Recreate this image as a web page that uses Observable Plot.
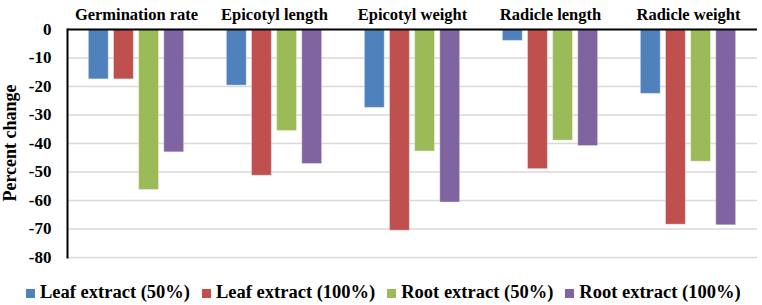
<!DOCTYPE html>
<html>
<head>
<meta charset="utf-8">
<script src="https://cdn.jsdelivr.net/npm/d3@7"></script>
<script src="https://cdn.jsdelivr.net/npm/@observablehq/plot@0.6"></script>
<style>
  html, body { margin: 0; padding: 0; background: #fff; }
  #wrap { position: relative; width: 762px; height: 305px;
          font-family: "Liberation Serif", Tinos, "Times New Roman", "Liberation Sans", sans-serif; }
  #ylabel { position: absolute; left: 10px; top: 143px; transform: translate(-50%, -50%) rotate(-90deg);
            font-weight: bold; font-size: 18px; white-space: nowrap; }
  #legend { position: absolute; left: 26px; top: 280px; height: 24px; display: flex; align-items: center;
            font-weight: bold; font-size: 18.5px; line-height: 24px; white-space: nowrap; }
  #legend .item { display: flex; align-items: center; margin-right: 12px; }
  #legend .sw { width: 9px; height: 9px; margin-right: 5px; margin-top: 2px; }
  #chart svg text { font-family: "Liberation Serif", Tinos, "Times New Roman", "Liberation Sans", sans-serif; }
</style>
</head>
<body>
<div id="wrap">
  <div id="chart"></div>
  <div id="ylabel">Percent change</div>
  <div id="legend"></div>
</div>
<script>
// Measured traits (facets along the top)
const categories = ["Germination rate", "Epicotyl length", "Epicotyl weight", "Radicle length", "Radicle weight"];
// Treatments
const series = ["Leaf extract (50%)", "Leaf extract (100%)", "Root extract (50%)", "Root extract (100%)"];
// Percent change relative to control, one array per treatment (same order as categories)
const leaf50  = [-17.5, -19.7, -27.5,  -4.0, -22.6];
const leaf100 = [-17.5, -51.3, -70.6, -49.0, -68.5];
const root50  = [-56.3, -35.6, -42.8, -39.0, -46.4];
const root100 = [-43.1, -47.2, -60.7, -40.9, -68.7];
// Y axis ticks
const yTicks = [0, -10, -20, -30, -40, -50, -60, -70, -80];

const colors = ["#4F81BD", "#C0504D", "#9BBB59", "#8064A2"];

const valuesBySeries = [leaf50, leaf100, root50, root100];
const data = [];
categories.forEach((c, i) => {
  series.forEach((s, j) => data.push({category: c, series: s, value: valuesBySeries[j][i]}));
});

const chart = Plot.plot({
  width: 762,
  height: 268,
  marginLeft: 65,
  marginRight: 3,
  marginTop: 29,
  marginBottom: 11,
  style: {background: "#fff"},
  fx: {domain: categories, padding: 0},
  x: {domain: series, paddingInner: 0.21, paddingOuter: 0.85, round: false, axis: null},
  y: {domain: [-80, 0], axis: null},
  color: {domain: series, range: colors},
  marks: [
    Plot.ruleY(yTicks.filter(d => d !== 0), {stroke: "#d9d9d9", strokeWidth: 1.5}),
    Plot.barY(data, {fx: "category", x: "series", y: "value", fill: "series",
                     stroke: "#fff", strokeOpacity: 0.35, strokeWidth: 1}),
    Plot.ruleY([0], {stroke: "#000", strokeWidth: 2}),
    Plot.frame({anchor: "left", stroke: "#000", strokeWidth: 2, facetAnchor: "left"}),
    Plot.axisY({ticks: yTicks, tickSize: 0, tickPadding: 16, tickFormat: d => String(d),
                fontSize: 17, fontWeight: "bold", fill: "#000", label: null}),
    Plot.axisFx({anchor: "top", tickSize: 0, tickPadding: 10, fontSize: 16.5, fontWeight: "bold",
                 fill: "#000", label: null})
  ]
});
document.getElementById("chart").appendChild(chart);

const legend = document.getElementById("legend");
series.forEach((s, i) => {
  const item = document.createElement("div");
  item.className = "item";
  const sw = document.createElement("span");
  sw.className = "sw";
  sw.style.background = colors[i];
  const label = document.createElement("span");
  label.textContent = s;
  item.appendChild(sw);
  item.appendChild(label);
  legend.appendChild(item);
});
</script>
</body>
</html>
